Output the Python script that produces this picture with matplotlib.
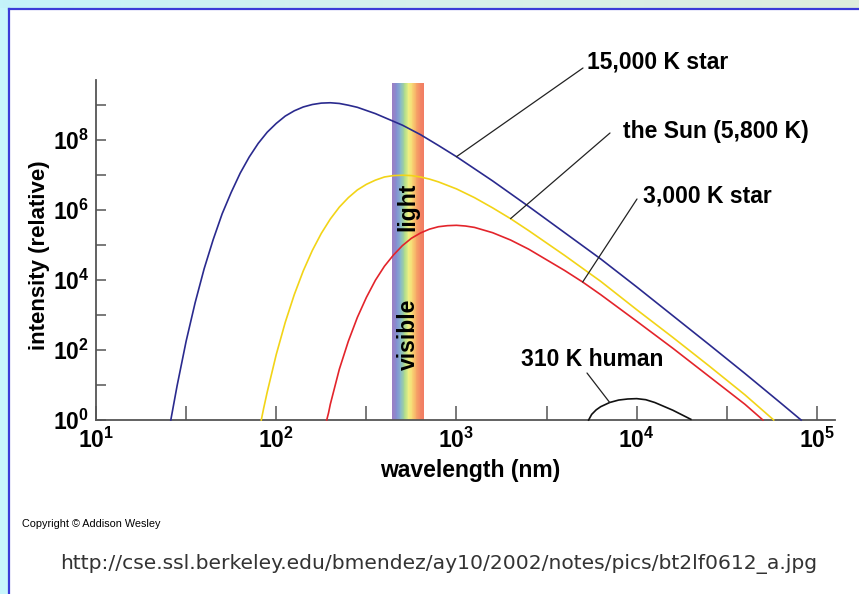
"""Blackbody curves (intensity vs wavelength) for a few temperatures, log-log."""

import matplotlib

matplotlib.use("Agg")
import matplotlib.pyplot as plt
import numpy as np
from matplotlib.colors import LinearSegmentedColormap
from matplotlib.lines import Line2D
from matplotlib.ticker import FixedFormatter, FixedLocator, NullFormatter

plt.rcParams["font.family"] = ["Liberation Sans", "DejaVu Sans"]
plt.rcParams["mathtext.fontset"] = "custom"
plt.rcParams["mathtext.rm"] = "Liberation Sans"
plt.rcParams["mathtext.bf"] = "Liberation Sans:bold"

W, H = 859, 594

# curves: log10(wavelength / nm), log10(relative intensity)
hot_log_wl = [1.415, 1.43, 1.45, 1.5, 1.55, 1.6, 1.65, 1.7, 1.75, 1.8, 1.85, 1.9, 1.95, 2.0, 2.05,
              2.1, 2.15, 2.2, 2.25, 2.3, 2.35, 2.4, 2.45, 2.5, 2.55, 2.6, 2.7, 2.8, 2.9, 3.0,
              3.2, 3.4, 3.6, 3.8, 4.0, 4.2, 4.4, 4.6, 4.8, 4.9, 4.912]
hot_log_int = [0.0, 0.42, 0.98, 2.25, 3.35, 4.32, 5.15, 5.89, 6.50, 7.05, 7.51, 7.90, 8.22, 8.47, 8.68,
               8.83, 8.94, 9.01, 9.05, 9.06, 9.04, 8.99, 8.93, 8.84, 8.75, 8.64, 8.42, 8.15, 7.84, 7.52,
               6.83, 6.10, 5.35, 4.60, 3.80, 2.98, 2.16, 1.33, 0.48, 0.05, 0.0]

sun_log_wl = [1.917, 1.93, 1.95, 2.0, 2.05, 2.1, 2.15, 2.2, 2.25, 2.3, 2.35, 2.4, 2.45, 2.5, 2.55,
              2.6, 2.65, 2.7, 2.75, 2.8, 2.85, 2.9, 3.0, 3.1, 3.2, 3.3, 3.4, 3.6, 3.8, 4.0,
              4.2, 4.4, 4.6, 4.76]
sun_log_int = [0.0, 0.33, 0.80, 1.87, 2.79, 3.58, 4.26, 4.84, 5.33, 5.74, 6.08, 6.35, 6.57, 6.73, 6.85,
               6.94, 6.98, 6.99, 6.98, 6.94, 6.88, 6.80, 6.60, 6.35, 6.06, 5.75, 5.41, 4.70, 3.96, 3.15,
               2.36, 1.55, 0.72, 0.0]

cool_log_wl = [2.28, 2.29, 2.3, 2.35, 2.4, 2.45, 2.5, 2.55, 2.6, 2.65, 2.7, 2.75, 2.8, 2.85, 2.9,
               2.95, 3.0, 3.05, 3.1, 3.2, 3.3, 3.4, 3.6, 3.7, 3.8, 4.0, 4.2, 4.4, 4.6, 4.70]
cool_log_int = [0.0, 0.20, 0.45, 1.45, 2.25, 2.93, 3.50, 3.99, 4.39, 4.71, 4.98, 5.19, 5.34, 5.45, 5.52,
                5.55, 5.56, 5.54, 5.50, 5.35, 5.14, 4.88, 4.27, 3.94, 3.58, 2.82, 2.05, 1.25, 0.45, 0.0]

human_log_wl = [3.733, 3.75, 3.775, 3.80, 3.85, 3.90, 3.95, 4.00, 4.05, 4.10, 4.15, 4.20, 4.25, 4.30]
human_log_int = [0.0, 0.16, 0.29, 0.38, 0.50, 0.57, 0.60, 0.61, 0.58, 0.50, 0.39, 0.28, 0.15, 0.02]

visible_log_wl = [2.644, 2.822]  # band edges
visible_log_top = 9.63

x_decades = [1, 2, 3, 4, 5]
y_decades = [0, 2, 4, 6, 8]

AXIS_GREY = "#555555"
FS = 16.5


def px(x, y):
    """Figure fraction from pixel position measured from the top-left."""
    return x / W, 1 - y / H


fig = plt.figure(figsize=(W / 100, H / 100), dpi=100)
fig.patch.set_facecolor("white")

# page decoration: gradient strip on top, cyan strip on the left, blue frame
top = fig.add_axes([0, 1 - 8 / H, 1, 8 / H])
grad = np.linspace(0, 1, 256)[None, :]
top.imshow(grad, aspect="auto", cmap=LinearSegmentedColormap.from_list("t", ["#c4f3fa", "#d6f0ec", "#dfeedd"]))
top.axis("off")
left = fig.add_axes([0, 0, 8 / W, 1 - 8 / H])
left.set_facecolor("#c8f6fc")
left.set_xticks([])
left.set_yticks([])
for s in left.spines.values():
    s.set_visible(False)
fig.add_artist(Line2D([8.5 / W, 1], [1 - 8.5 / H] * 2, color="#3b3bd8", lw=1.6))
fig.add_artist(Line2D([8.5 / W] * 2, [0, 1 - 8.5 / H], color="#3b3bd8", lw=1.6))

ax = fig.add_axes([96 / W, 1 - 420 / H, (835 - 96) / W, (420 - 80) / H])
ax.set_xscale("log")
ax.set_yscale("log")
ax.set_xlim(10, 10 ** 5.1)
ax.set_ylim(1, 10 ** 9.71)

# visible band drawn as thin colored slices
band = LinearSegmentedColormap.from_list(
    "band", ["#9a7fc4", "#8390d2", "#86b7cc", "#a9d98f", "#eef283", "#f8d774", "#f6a867", "#f38865", "#f07a62"])
edges = np.linspace(visible_log_wl[0], visible_log_wl[1], 41)
for i in range(len(edges) - 1):
    ax.axvspan(10 ** edges[i], 10 ** edges[i + 1], ymin=0, ymax=visible_log_top / 9.71,
               color=band(i / (len(edges) - 2)), lw=0, zorder=1)
band_mid = 10 ** (sum(visible_log_wl) / 2)
ax.text(band_mid, 10 ** 6.1, "light", rotation=90, ha="center", va="center",
        fontsize=FS, fontweight="bold", zorder=2)
ax.text(band_mid, 10 ** 2.45, "visible", rotation=90, ha="center", va="center",
        fontsize=FS, fontweight="bold", zorder=2)

curves = [
    (hot_log_wl, hot_log_int, "#2a2a8e"),
    (sun_log_wl, sun_log_int, "#f2d417"),
    (cool_log_wl, cool_log_int, "#e3242b"),
    (human_log_wl, human_log_int, "#111111"),
]
for lw_, li_, col in curves:
    ax.plot(10 ** np.array(lw_), 10 ** np.array(li_), color=col, lw=1.2, zorder=3, clip_on=False)

# labels with leader lines
labels = [
    ("15,000 K star", (587, 62), (583, 68), hot_log_wl, hot_log_int, 3.0),
    ("the Sun (5,800 K)", (623, 131), (610, 133), sun_log_wl, sun_log_int, 3.3),
    ("3,000 K star", (643, 196), (637, 199), cool_log_wl, cool_log_int, 3.7),
    ("310 K human", (521, 360), (587, 373), human_log_wl, human_log_int, 3.85),
]
for text, tpos, lpos, xs, ys, at in labels:
    k = xs.index(at)
    ax.annotate("", xy=(10 ** xs[k], 10 ** ys[k]), xycoords="data",
                xytext=(lpos[0], H - lpos[1]), textcoords="figure pixels",
                arrowprops=dict(arrowstyle="-", lw=0.9, color="#222222", shrinkA=0, shrinkB=0))
    fig.text(*px(*tpos), text, ha="left", va="center", fontsize=FS, fontweight="bold")

# axes styling
for side in ("top", "right"):
    ax.spines[side].set_visible(False)
for side in ("left", "bottom"):
    ax.spines[side].set_color(AXIS_GREY)
    ax.spines[side].set_linewidth(1.3)

ax.xaxis.set_major_locator(FixedLocator([10.0 ** d for d in x_decades]))
ax.xaxis.set_major_formatter(FixedFormatter([rf"$\mathbf{{10^{{{d}}}}}$" for d in x_decades]))
ax.xaxis.set_minor_locator(FixedLocator([10 ** (d + 0.5) for d in x_decades[:-1]]))
ax.xaxis.set_minor_formatter(NullFormatter())
ax.yaxis.set_major_locator(FixedLocator([10.0 ** d for d in y_decades]))
ax.yaxis.set_major_formatter(FixedFormatter([rf"$\mathbf{{10^{{{d}}}}}$" for d in y_decades]))
ax.yaxis.set_minor_locator(FixedLocator([10.0 ** (d + 1) for d in y_decades]))
ax.yaxis.set_minor_formatter(NullFormatter())

ax.tick_params(axis="x", which="both", direction="in", length=10, width=1.1, color=AXIS_GREY,
               labelsize=FS, pad=5.5)
ax.tick_params(axis="y", which="both", direction="in", length=7, width=1.1, color=AXIS_GREY,
               labelsize=FS, pad=5)
ax.patch.set_alpha(0)

fig.text(*px(40, 255), "intensity (relative)", rotation=90, ha="center", va="center",
         fontsize=16, fontweight="bold")
fig.text(*px(470, 470), "wavelength (nm)", ha="center", va="center", fontsize=FS, fontweight="bold")

fig.text(*px(22, 524), "Copyright \u00a9 Addison Wesley", ha="left", va="center", fontsize=7.8,
         family=["Liberation Sans Narrow", "Liberation Sans"])
fig.text(*px(439, 564), "http://cse.ssl.berkeley.edu/bmendez/ay10/2002/notes/pics/bt2lf0612_a.jpg",
         ha="center", va="center", fontsize=14.6, color="#333333", family=["DejaVu Sans"])

fig.savefig("out.png", dpi=100, facecolor=fig.get_facecolor())
